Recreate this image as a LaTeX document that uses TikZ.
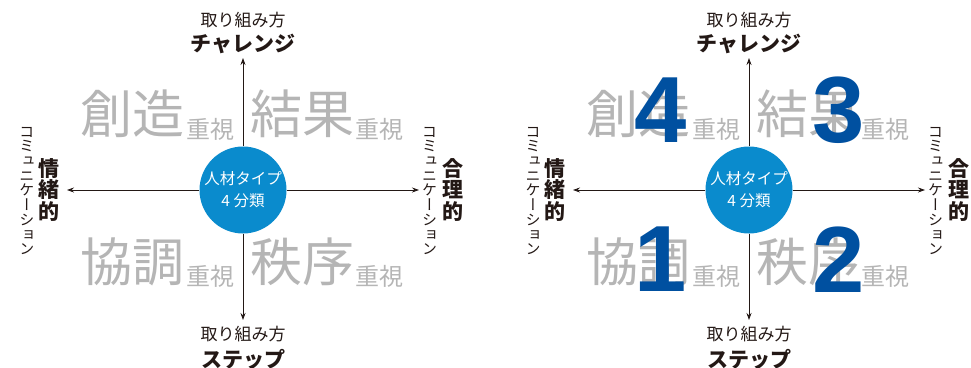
\documentclass[tikz,border=0pt]{standalone}
\usepackage{fontspec}
\usetikzlibrary{arrows.meta}
\newfontfamily\jp{Noto Sans CJK JP}
\newfontfamily\jpv{Noto Sans CJK JP}[RawFeature=+vert]
\newfontfamily\numf{Liberation Sans}
\definecolor{axisc}{HTML}{231815}
\definecolor{grayc}{HTML}{B5B5B5}
\definecolor{circc}{HTML}{0A8BCD}
\definecolor{numc}{HTML}{0050A0}
\tikzset{
 axis/.style={draw=axisc, line width=0.8pt, -{Stealth[length=7pt,width=5pt]}},
 hub/.style={circle, fill=circc, minimum size=87pt, inner sep=0pt, text=white, align=center, font=\jp\fontsize{15.5}{22}\selectfont},
 big/.style={text=grayc, inner sep=0pt, anchor=west, font=\jp\fontsize{52}{52}\selectfont},
 small/.style={text=grayc, inner sep=0pt, anchor=west, font=\jp\fontsize{24}{24}\selectfont},
 lab/.style={text=axisc, inner sep=0pt, font=\jp\fontsize{17}{17}\selectfont},
 labb/.style={text=axisc, inner sep=0pt, font=\jp\bfseries\fontsize{21}{21}\selectfont},
 vcom/.style={text=axisc, inner sep=0pt, align=center, font=\jpv\fontsize{15}{14.7}\selectfont},
 vbold/.style={text=axisc, inner sep=0pt, align=center, font=\jpv\bfseries\fontsize{21}{21.3}\selectfont},
 num/.style={text=numc, inner sep=0pt, font=\numf\bfseries\fontsize{94}{94}\selectfont},
}
\newcommand\drawpanel{%
  \node[big] (g1) at (80,114) {創造};
  \node[small] (g1s) at (186,129) {重視};
  \node[big] (g2) at (250,114) {結果};
  \node[small] (g2s) at (355,129) {重視};
  \node[big] (g3) at (80,261.5) {協調};
  \node[small] (g3s) at (186,276) {重視};
  \node[big] (g4) at (250,261.5) {秩序};
  \node[small] (g4s) at (355,276) {重視};
  \node[hub] (c) at (243,190) {人材タイプ\\4 分類};
  \coordinate (t) at (243,58);
  \coordinate (b) at (243,320);
  \coordinate (l) at (67,190);
  \coordinate (r) at (419,190);
  \draw[axis] (c) -- (t);
  \draw[axis] (c) -- (b);
  \draw[axis] (c) -- (l);
  \draw[axis] (c) -- (r);
  \node[lab] (tl1) at (243,20) {取り組み方};
  \node[labb] (tl2) at (243,44) {チャレンジ};
  \node[lab] (bl1) at (243,334) {取り組み方};
  \node[labb] (bl2) at (243,359) {ステップ};
  \node[vcom] (lc) at (27,191) {コ\\ミ\\ュ\\ニ\\ケ\\ー\\シ\\ョ\\ン};
  \node[vbold] (lb) at (49,190) {情\\緒\\的};
  \node[vcom] (rc) at (429.5,191) {コ\\ミ\\ュ\\ニ\\ケ\\ー\\シ\\ョ\\ン};
  \node[vbold] (rb) at (452.5,190) {合\\理\\的};
}
\begin{document}
\begin{tikzpicture}[x=1pt,y=-1pt]
\useasboundingbox (0,0) rectangle (971,367);
\begin{scope}[name prefix=a-]
\drawpanel
\end{scope}
\begin{scope}[xshift=506pt, name prefix=b-]
\drawpanel
\node[num] (n4) at (155,110.5) {4};
\node[num] (n3) at (332.5,110.5) {3};
\node[num] (n1) at (155,259.5) {1};
\node[num] (n2) at (332.5,259.5) {2};
\end{scope}
\end{tikzpicture}
\end{document}
